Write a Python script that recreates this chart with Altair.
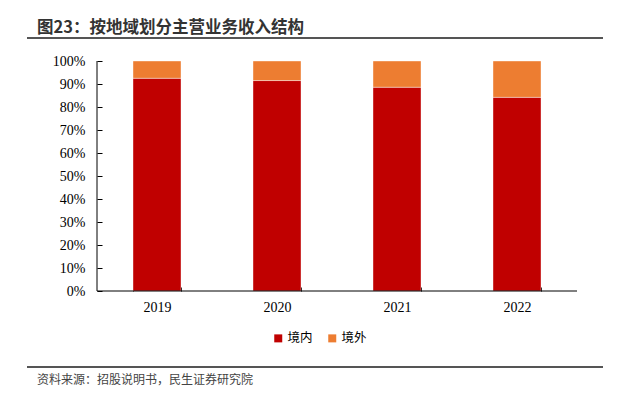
import altair as alt
import pandas as pd

years = ["2019", "2020", "2021", "2022"]
domestic = [92.5, 91.5, 88.6, 84.2]
overseas = [7.5, 8.5, 11.4, 15.8]
series = ["境内", "境外"]
colors = ["#C00000", "#ED7D31"]
y_ticks = [0, 10, 20, 30, 40, 50, 60, 70, 80, 90, 100]

title_text = "图23：按地域划分主营业务收入结构"
source_text = "资料来源：招股说明书，民生证券研究院"

rows = []
for i, yr in enumerate(years):
    rows.append({"year": yr, "series": series[0], "value": domestic[i], "ord": 0})
    rows.append({"year": yr, "series": series[1], "value": overseas[i], "ord": 1})
df = pd.DataFrame(rows)

W, H = 480, 230
serif = "Liberation Serif"
sans = "Noto Sans CJK SC"

bars = alt.Chart(df).mark_bar(stroke="white", strokeWidth=0.4).encode(
    x=alt.X("year:N", sort=years, title=None,
            scale=alt.Scale(paddingInner=0.6, paddingOuter=0.3),
            axis=alt.Axis(domain=False, grid=False, labelAngle=0, tickBand="extent",
                          offset=-4, tickSize=4, tickColor="#000", labelPadding=9,
                          labelFont=serif, labelFontSize=14, labelColor="#000")),
    y=alt.Y("value:Q", stack="zero", title=None,
            scale=alt.Scale(domain=[0, 100], nice=False),
            axis=alt.Axis(values=y_ticks, domain=False, grid=False, offset=-5, tickSize=5,
                          tickColor="#000", labelPadding=12, labelExpr="datum.value + '%'",
                          labelFont=serif, labelFontSize=14, labelColor="#000")),
    color=alt.Color("series:N", sort=series,
                    scale=alt.Scale(domain=series, range=colors),
                    legend=alt.Legend(title=None, orient="none", direction="horizontal",
                                      legendX=175, legendY=271, symbolType="square",
                                      symbolSize=64, symbolStrokeWidth=0,
                                      labelFont=sans, labelFontSize=12.5, labelColor="#000",
                                      columnPadding=13, labelOffset=3)),
    order=alt.Order("ord:Q", sort="ascending"),
)

one = pd.DataFrame({"a": [0]})

x_domain = alt.Chart(one).mark_rule(color="#000", strokeWidth=1).encode(
    x=alt.value(0), x2=alt.value(W), y=alt.value(H))
y_domain = alt.Chart(one).mark_rule(color="#000", strokeWidth=1).encode(
    x=alt.value(0), y=alt.value(0), y2=alt.value(H))

top_line = alt.Chart(one).mark_rule(color="#555", strokeWidth=2).encode(
    x=alt.value(-70), x2=alt.value(506), y=alt.value(-23))
bottom_line = alt.Chart(one).mark_rule(color="#555", strokeWidth=2).encode(
    x=alt.value(-70), x2=alt.value(506), y=alt.value(306))

title = alt.Chart(one).mark_text(align="left", baseline="alphabetic", font=sans,
                                 fontSize=16.5, fontWeight="bold", color="#333").encode(
    x=alt.value(-60), y=alt.value(-28), text=alt.value(title_text))
source = alt.Chart(one).mark_text(align="left", baseline="middle", font=sans,
                                  fontSize=12, color="#444").encode(
    x=alt.value(-60), y=alt.value(319), text=alt.value(source_text))

chart = alt.layer(bars, x_domain, y_domain, top_line, bottom_line, title, source).properties(
    width=W, height=H,
    autosize=alt.AutoSizeParams(type="none"),
    padding={"left": 89, "top": 53, "right": 39, "bottom": 95},
    background="white",
).configure_view(stroke=None)

chart.save("out.html", embed_options={"renderer": "svg", "actions": False})
